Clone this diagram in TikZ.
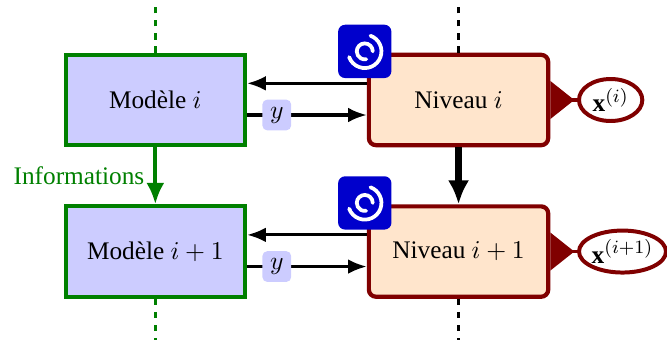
\documentclass[tikz,border=0pt]{standalone}
\usepackage{tikz}
\usepackage{fontspec}
\setmainfont{Liberation Serif}
\usetikzlibrary{arrows.meta, calc, positioning, shapes.geometric}
\tikzset{
    every node/.append style={font=\fontsize{10.8}{13}\selectfont},
    modele/.style={draw=green!50!black, fill=blue!20, line width=1.8pt, minimum width=2.69cm, minimum height=1.355cm},
    niveau/.style={draw=red!50!black, fill=orange!20, line width=1.8pt, rounded corners=3pt, minimum width=2.69cm, minimum height=1.355cm},
    sortie/.style={ellipse, draw=red!50!black, fill=white, line width=1.7pt, inner sep=0pt, minimum width=0.95cm, minimum height=0.63cm},
    etiquette/.style={fill=blue!20, rounded corners=2pt, inner sep=2pt, minimum width=0.43cm, minimum height=0.46cm},
    icone/.style={fill=blue!80!black, rounded corners=3pt, minimum size=0.8cm, inner sep=0pt},
    fleche/.style={-{Latex[length=2.8mm,width=2.2mm]}, line width=1.3pt},
    grosse/.style={-{Latex[length=3.6mm,width=3.2mm]}, line width=2.8pt},
    info/.style={-{Latex[length=3.2mm,width=2.7mm]}, line width=1.8pt, green!50!black},
    bec/.style={{Triangle[reversed,length=3.6mm,width=5.6mm]}-, line width=1.4pt, red!50!black},
    suite/.style={dash pattern=on 2.7pt off 2.9pt, line width=1.4pt},
    spirale/.style={white, line width=1.6pt, line cap=round}
}
\newcommand{\spirale}[1]{
    \draw[spirale] ([shift={(70:.25cm)}]#1.center) arc (70:-160:.25cm);
    \draw[spirale] ([shift={(0:.12cm)}]#1.center) arc (0:280:.12cm);
}
\begin{document}
\begin{tikzpicture}
    \useasboundingbox (0,0) rectangle (10.005,5.1);
    % modeles
    \node[modele] (modele1) at (2.33,3.6) {Modèle $i$};
    \node[modele, below=.855cm of modele1] (modele2) {Modèle $i+1$};
    % niveaux
    \node[niveau, right=1.795cm of modele1] (niveau1) {Niveau $i$};
    \node[niveau, right=1.795cm of modele2] (niveau2) {Niveau $i+1$};
    % sorties
    \node[sortie, right=.4cm of niveau1] (sortie1) {$\mathbf{x}^{(i)}$};
    \node[sortie, right=.4cm of niveau2] (sortie2) {$\mathbf{x}^{(i+1)}$};
    \draw[bec] (niveau1) -- (sortie1);
    \draw[bec] (niveau2) -- (sortie2);
    % echanges
    \foreach \s in {1,2}{
        \draw[fleche] ([yshift=.25cm]niveau\s.west) -- ([yshift=.25cm]modele\s.east);
        \draw[fleche] ([yshift=-.225cm]modele\s.east) -- node[etiquette, pos=.248] (y\s) {$y$} ([yshift=-.225cm]niveau\s.west);
        \node[icone] (icone\s) at ($(niveau\s.north west)+(-.03cm,.02cm)$) {};
        \spirale{icone\s}
    }
    % transitions
    \draw[grosse] (niveau1) -- (niveau2);
    \draw[info] (modele1) -- node[left, inner sep=3.8pt] (texteinfo) {Informations} (modele2);
    % suites
    \coordinate (h1) at (modele1 |- 0,5.0);
    \coordinate (h2) at (niveau1 |- 0,5.0);
    \coordinate (b1) at (modele2 |- 0,0);
    \coordinate (b2) at (niveau2 |- 0,0);
    \draw[suite, green!50!black] (modele1.north) -- (h1);
    \draw[suite, green!50!black] (modele2.south) -- (b1);
    \draw[suite] (niveau1.north) -- (h2);
    \draw[suite] (niveau2.south) -- (b2);
\end{tikzpicture}
\end{document}
